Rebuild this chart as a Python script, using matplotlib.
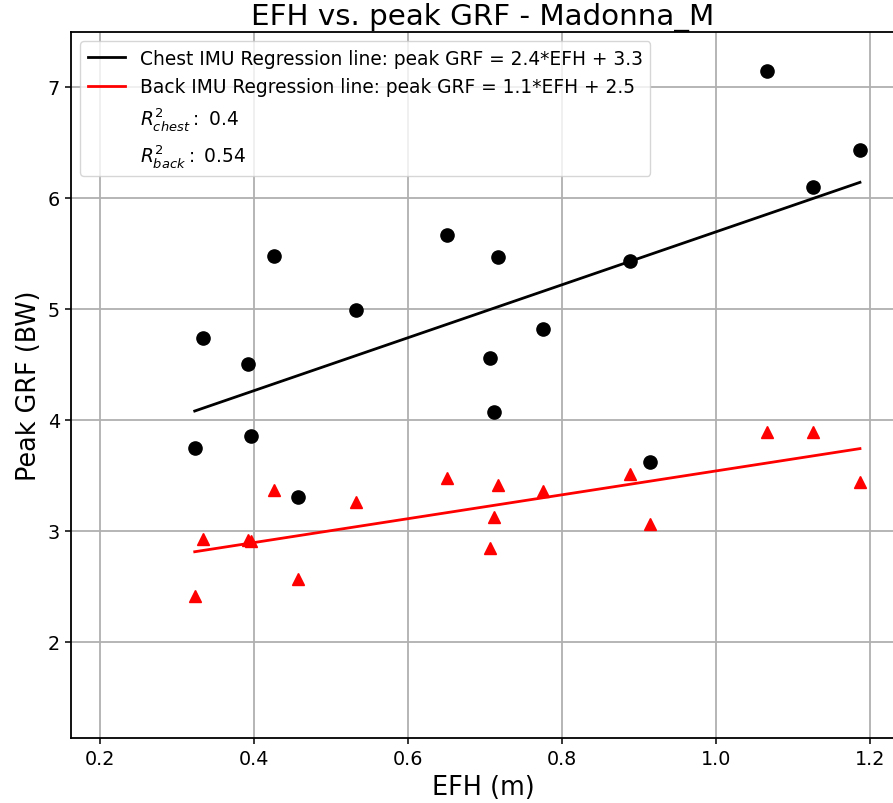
import matplotlib
matplotlib.use("Agg")
import matplotlib.pyplot as plt
from matplotlib.lines import Line2D
import numpy as np

# EFH (m) per trial
efh = [0.323, 0.334, 0.392, 0.396, 0.426, 0.457, 0.532, 0.651, 0.706,
       0.712, 0.717, 0.775, 0.888, 0.914, 1.066, 1.126, 1.187]
# peak GRF (BW), chest IMU
grf_chest = [3.75, 4.74, 4.50, 3.86, 5.48, 3.31, 4.99, 5.67, 4.56,
             4.07, 5.47, 4.82, 5.43, 3.62, 7.14, 6.10, 6.43]
# peak GRF (BW), back IMU
grf_back = [2.41, 2.93, 2.92, 2.91, 3.37, 2.57, 3.26, 3.48, 2.85,
            3.13, 3.41, 3.36, 3.51, 3.06, 3.89, 3.89, 3.44]

x = np.array(efh)
m_c, b_c = np.polyfit(x, grf_chest, 1)
m_b, b_b = np.polyfit(x, grf_back, 1)
r2_c = np.corrcoef(x, grf_chest)[0, 1] ** 2
r2_b = np.corrcoef(x, grf_back)[0, 1] ** 2

fig = plt.figure(figsize=(8.93, 8.04), dpi=100)
ax = fig.add_axes([71 / 893, 65 / 804, 824 / 893, 706 / 804])

xs = np.array([x.min(), x.max()])
ax.plot(xs, m_c * xs + b_c, color='black', lw=2)
ax.plot(xs, m_b * xs + b_b, color='red', lw=2)
ax.plot(x, grf_chest, 'o', color='black', ms=9.5)
ax.plot(x, grf_back, '^', color='red', ms=9)

ax.set_xlim(0.1623, 1.2325)
ax.set_ylim(1.135, 7.495)
ax.set_xticks([0.2, 0.4, 0.6, 0.8, 1.0, 1.2])
ax.set_yticks([2, 3, 4, 5, 6, 7])
ax.grid(True, color='#b0b0b0', lw=1.3)
ax.tick_params(labelsize=13.8, length=4.5, width=1.1)
for s in ax.spines.values():
    s.set_linewidth(1.3)

ax.set_title('EFH vs. peak GRF - Madonna_M', fontsize=21.2)
ax.set_xlabel('EFH (m)', fontsize=18.4)
ax.set_ylabel('Peak GRF (BW)', fontsize=18.4)

handles = [
    Line2D([], [], color='black', lw=2),
    Line2D([], [], color='red', lw=2),
    Line2D([], [], color='none'),
    Line2D([], [], color='none'),
]
labels = [
    'Chest IMU Regression line: peak GRF = %.1f*EFH + %.1f' % (m_c, b_c),
    'Back IMU Regression line: peak GRF = %.1f*EFH + %.1f' % (m_b, b_b),
    r'$R^2_{chest}:$ ' + str(round(r2_c, 2)),
    r'$R^2_{back}:$ ' + str(round(r2_b, 2)),
]
ax.legend(handles, labels, loc='upper left', fontsize=13.4)

fig.savefig('out.png', dpi=100)
